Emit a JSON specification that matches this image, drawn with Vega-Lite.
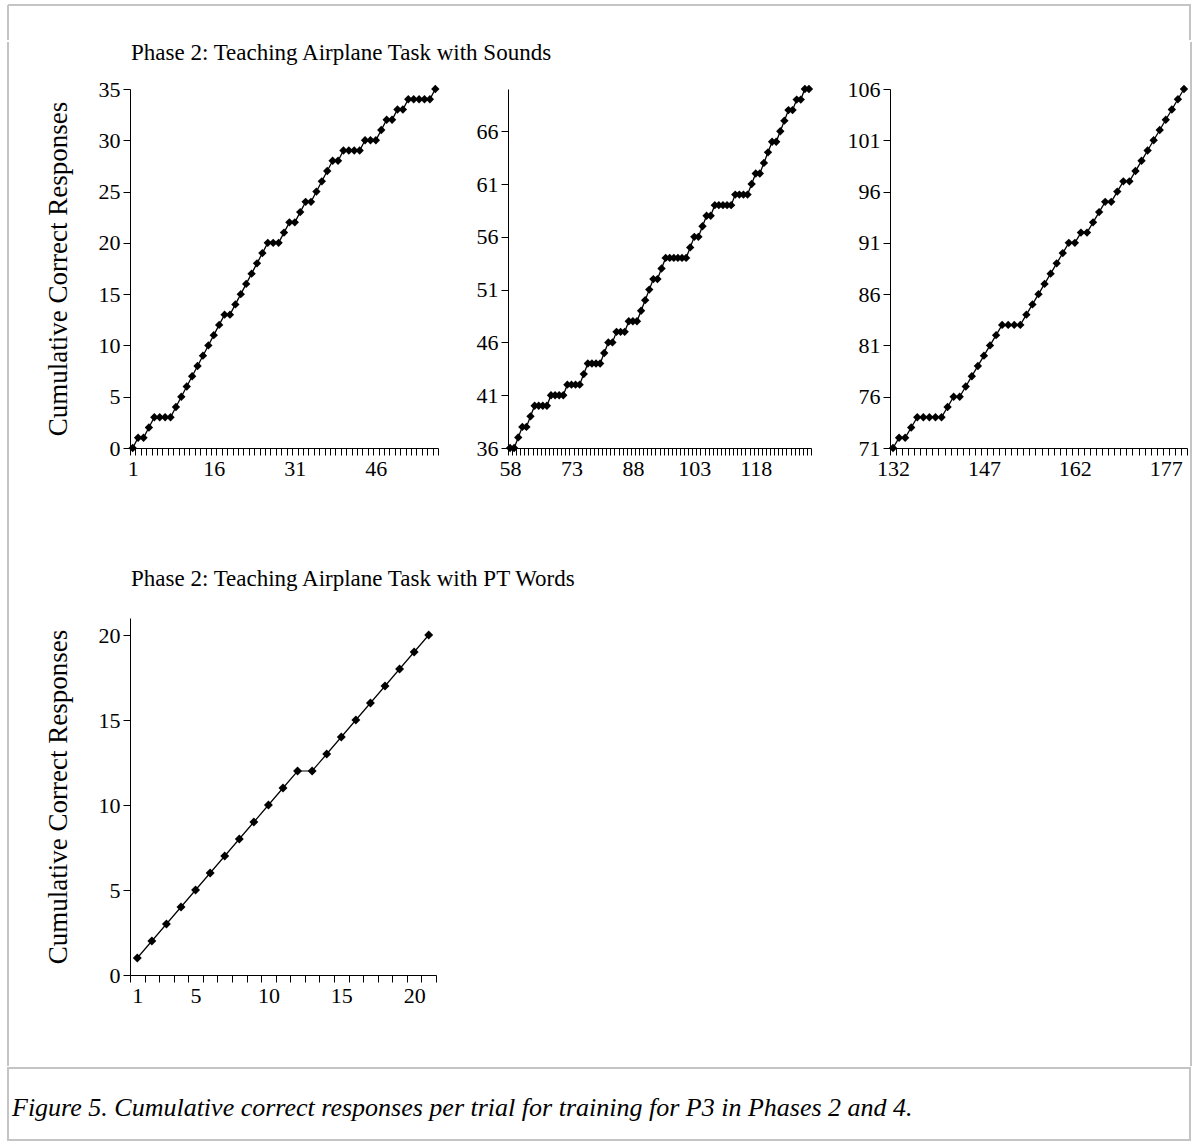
{
  "$schema": "https://vega.github.io/schema/vega-lite/v6.json",
  "background": "white",
  "padding": {"left": 7, "top": 4, "right": 0, "bottom": 0},
  "spacing": 0,
  "config": {
    "font": "Liberation Serif",
    "view": {"stroke": null},
    "axis": {"labelFont": "Liberation Serif", "titleFont": "Liberation Serif", "labelFontSize": 22, "titleFontSize": 27, "titleFontWeight": "normal", "labelColor": "black", "titleColor": "black", "domainColor": "black", "tickColor": "black", "domainWidth": 1, "tickWidth": 1, "tickSize": 7, "labelPadding": 3, "grid": false},
    "text": {"font": "Liberation Serif", "color": "black"}
  },
  "datasets": {
    "s1": [{"trial":1,"correct":0},{"trial":2,"correct":1},{"trial":3,"correct":1},{"trial":4,"correct":2},{"trial":5,"correct":3},{"trial":6,"correct":3},{"trial":7,"correct":3},{"trial":8,"correct":3},{"trial":9,"correct":4},{"trial":10,"correct":5},{"trial":11,"correct":6},{"trial":12,"correct":7},{"trial":13,"correct":8},{"trial":14,"correct":9},{"trial":15,"correct":10},{"trial":16,"correct":11},{"trial":17,"correct":12},{"trial":18,"correct":13},{"trial":19,"correct":13},{"trial":20,"correct":14},{"trial":21,"correct":15},{"trial":22,"correct":16},{"trial":23,"correct":17},{"trial":24,"correct":18},{"trial":25,"correct":19},{"trial":26,"correct":20},{"trial":27,"correct":20},{"trial":28,"correct":20},{"trial":29,"correct":21},{"trial":30,"correct":22},{"trial":31,"correct":22},{"trial":32,"correct":23},{"trial":33,"correct":24},{"trial":34,"correct":24},{"trial":35,"correct":25},{"trial":36,"correct":26},{"trial":37,"correct":27},{"trial":38,"correct":28},{"trial":39,"correct":28},{"trial":40,"correct":29},{"trial":41,"correct":29},{"trial":42,"correct":29},{"trial":43,"correct":29},{"trial":44,"correct":30},{"trial":45,"correct":30},{"trial":46,"correct":30},{"trial":47,"correct":31},{"trial":48,"correct":32},{"trial":49,"correct":32},{"trial":50,"correct":33},{"trial":51,"correct":33},{"trial":52,"correct":34},{"trial":53,"correct":34},{"trial":54,"correct":34},{"trial":55,"correct":34},{"trial":56,"correct":34},{"trial":57,"correct":35}],
    "s2": [{"trial":58,"correct":36},{"trial":59,"correct":36},{"trial":60,"correct":37},{"trial":61,"correct":38},{"trial":62,"correct":38},{"trial":63,"correct":39},{"trial":64,"correct":40},{"trial":65,"correct":40},{"trial":66,"correct":40},{"trial":67,"correct":40},{"trial":68,"correct":41},{"trial":69,"correct":41},{"trial":70,"correct":41},{"trial":71,"correct":41},{"trial":72,"correct":42},{"trial":73,"correct":42},{"trial":74,"correct":42},{"trial":75,"correct":42},{"trial":76,"correct":43},{"trial":77,"correct":44},{"trial":78,"correct":44},{"trial":79,"correct":44},{"trial":80,"correct":44},{"trial":81,"correct":45},{"trial":82,"correct":46},{"trial":83,"correct":46},{"trial":84,"correct":47},{"trial":85,"correct":47},{"trial":86,"correct":47},{"trial":87,"correct":48},{"trial":88,"correct":48},{"trial":89,"correct":48},{"trial":90,"correct":49},{"trial":91,"correct":50},{"trial":92,"correct":51},{"trial":93,"correct":52},{"trial":94,"correct":52},{"trial":95,"correct":53},{"trial":96,"correct":54},{"trial":97,"correct":54},{"trial":98,"correct":54},{"trial":99,"correct":54},{"trial":100,"correct":54},{"trial":101,"correct":54},{"trial":102,"correct":55},{"trial":103,"correct":56},{"trial":104,"correct":56},{"trial":105,"correct":57},{"trial":106,"correct":58},{"trial":107,"correct":58},{"trial":108,"correct":59},{"trial":109,"correct":59},{"trial":110,"correct":59},{"trial":111,"correct":59},{"trial":112,"correct":59},{"trial":113,"correct":60},{"trial":114,"correct":60},{"trial":115,"correct":60},{"trial":116,"correct":60},{"trial":117,"correct":61},{"trial":118,"correct":62},{"trial":119,"correct":62},{"trial":120,"correct":63},{"trial":121,"correct":64},{"trial":122,"correct":65},{"trial":123,"correct":65},{"trial":124,"correct":66},{"trial":125,"correct":67},{"trial":126,"correct":68},{"trial":127,"correct":68},{"trial":128,"correct":69},{"trial":129,"correct":69},{"trial":130,"correct":70},{"trial":131,"correct":70}],
    "s3": [{"trial":132,"correct":71},{"trial":133,"correct":72},{"trial":134,"correct":72},{"trial":135,"correct":73},{"trial":136,"correct":74},{"trial":137,"correct":74},{"trial":138,"correct":74},{"trial":139,"correct":74},{"trial":140,"correct":74},{"trial":141,"correct":75},{"trial":142,"correct":76},{"trial":143,"correct":76},{"trial":144,"correct":77},{"trial":145,"correct":78},{"trial":146,"correct":79},{"trial":147,"correct":80},{"trial":148,"correct":81},{"trial":149,"correct":82},{"trial":150,"correct":83},{"trial":151,"correct":83},{"trial":152,"correct":83},{"trial":153,"correct":83},{"trial":154,"correct":84},{"trial":155,"correct":85},{"trial":156,"correct":86},{"trial":157,"correct":87},{"trial":158,"correct":88},{"trial":159,"correct":89},{"trial":160,"correct":90},{"trial":161,"correct":91},{"trial":162,"correct":91},{"trial":163,"correct":92},{"trial":164,"correct":92},{"trial":165,"correct":93},{"trial":166,"correct":94},{"trial":167,"correct":95},{"trial":168,"correct":95},{"trial":169,"correct":96},{"trial":170,"correct":97},{"trial":171,"correct":97},{"trial":172,"correct":98},{"trial":173,"correct":99},{"trial":174,"correct":100},{"trial":175,"correct":101},{"trial":176,"correct":102},{"trial":177,"correct":103},{"trial":178,"correct":104},{"trial":179,"correct":105},{"trial":180,"correct":106}],
    "s4": [{"trial":1,"correct":1},{"trial":2,"correct":2},{"trial":3,"correct":3},{"trial":4,"correct":4},{"trial":5,"correct":5},{"trial":6,"correct":6},{"trial":7,"correct":7},{"trial":8,"correct":8},{"trial":9,"correct":9},{"trial":10,"correct":10},{"trial":11,"correct":11},{"trial":12,"correct":12},{"trial":13,"correct":12},{"trial":14,"correct":13},{"trial":15,"correct":14},{"trial":16,"correct":15},{"trial":17,"correct":16},{"trial":18,"correct":17},{"trial":19,"correct":18},{"trial":20,"correct":19},{"trial":21,"correct":20}],
    "blank": [{"t": ""}],
    "t1": [{"t": "Phase 2: Teaching Airplane Task with Sounds"}],
    "t2": [{"t": "Phase 2: Teaching Airplane Task with PT Words"}],
    "caption": [{"t": "Figure 5. Cumulative correct responses per trial for training for P3 in Phases 2 and 4."}]
  },
  "vconcat": [
    {"width": 1182, "height": 35, "view": {"stroke": "#c4c4c4", "strokeWidth": 2, "strokeDash": [1217, 1182, 35, 0]}, "data": {"name": "blank"}, "mark": {"type": "text"}, "encoding": {"text": {"field": "t"}}},
    {
      "spacing": 0,
      "hconcat": [
        {"width": 1, "height": 1024, "view": {"stroke": "#c4c4c4", "strokeWidth": 2, "strokeDash": [0, 1026, 1024, 0]}, "data": {"name": "blank"}, "mark": {"type": "text"}, "encoding": {"text": {"field": "t"}}},
        {
          "spacing": 10,
          "vconcat": [
            {"width": 700, "height": 26, "data": {"name": "t1"},
             "mark": {"type": "text", "align": "left", "baseline": "alphabetic", "dx": 121, "fontSize": 23},
             "encoding": {"text": {"field": "t"},
               "x": {"datum": 0, "type": "quantitative", "scale": {"domain": [0, 1]}, "axis": null},
               "y": {"datum": 0.31, "type": "quantitative", "scale": {"domain": [0, 1]}, "axis": null}}},
            {
              "spacing": 32,
              "hconcat": [
                {"width": 1, "height": 359, "data": {"name": "blank"}, "mark": {"type": "text"}, "encoding": {"text": {"field": "t"}}},
                {
                  "width": 308, "height": 359,
                  "data": {"name": "s1"},
                  "encoding": {
                    "x": {"field": "trial", "type": "quantitative", "scale": {"domain": [0.5, 57.5], "nice": false, "zero": false},
                          "axis": {"title": null, "minExtent": 60, "values": [0.5,1.5,2.5,3.5,4.5,5.5,6.5,7.5,8.5,9.5,10.5,11.5,12.5,13.5,14.5,15.5,16.5,17.5,18.5,19.5,20.5,21.5,22.5,23.5,24.5,25.5,26.5,27.5,28.5,29.5,30.5,31.5,32.5,33.5,34.5,35.5,36.5,37.5,38.5,39.5,40.5,41.5,42.5,43.5,44.5,45.5,46.5,47.5,48.5,49.5,50.5,51.5,52.5,53.5,54.5,55.5,56.5,57.5,1,16,31,46],
                                   "labelExpr": "datum.value % 1 === 0 ? datum.label : ''", "tickOpacity": {"condition": {"test": "datum.value % 1 === 0", "value": 0}, "value": 1}, "labelOverlap": false, "labelFlush": false, "labelBound": false}},
                    "y": {"field": "correct", "type": "quantitative", "scale": {"domain": [0, 35], "nice": false, "zero": false},
                          "axis": {"values": [0,5,10,15,20,25,30,35], "title": "Cumulative Correct Responses", "titleX": -72, "titleBaseline": "middle", "minExtent": 81, "maxExtent": 81}}
                  },
                  "layer": [
                    {"mark": {"type": "line", "color": "black", "strokeWidth": 1.3}},
                    {"mark": {"type": "point", "shape": "diamond", "filled": true, "color": "black", "size": 70, "opacity": 1}}
                  ]
                },
                {
                  "width": 303, "height": 359,
                  "data": {"name": "s2"},
                  "encoding": {
                    "x": {"field": "trial", "type": "quantitative", "scale": {"domain": [57.5, 131.5], "nice": false, "zero": false},
                          "axis": {"title": null, "minExtent": 60, "values": [57.5,58.5,59.5,60.5,61.5,62.5,63.5,64.5,65.5,66.5,67.5,68.5,69.5,70.5,71.5,72.5,73.5,74.5,75.5,76.5,77.5,78.5,79.5,80.5,81.5,82.5,83.5,84.5,85.5,86.5,87.5,88.5,89.5,90.5,91.5,92.5,93.5,94.5,95.5,96.5,97.5,98.5,99.5,100.5,101.5,102.5,103.5,104.5,105.5,106.5,107.5,108.5,109.5,110.5,111.5,112.5,113.5,114.5,115.5,116.5,117.5,118.5,119.5,120.5,121.5,122.5,123.5,124.5,125.5,126.5,127.5,128.5,129.5,130.5,131.5,58,73,88,103,118],
                                   "labelExpr": "datum.value % 1 === 0 ? datum.label : ''", "tickOpacity": {"condition": {"test": "datum.value % 1 === 0", "value": 0}, "value": 1}, "labelOverlap": false, "labelFlush": false, "labelBound": false}},
                    "y": {"field": "correct", "type": "quantitative", "scale": {"domain": [36, 70], "nice": false, "zero": false},
                          "axis": {"values": [36,41,46,51,56,61,66], "title": null, "minExtent": 36, "maxExtent": 36}}
                  },
                  "layer": [
                    {"mark": {"type": "line", "color": "black", "strokeWidth": 1.3}},
                    {"mark": {"type": "point", "shape": "diamond", "filled": true, "color": "black", "size": 70, "opacity": 1}}
                  ]
                },
                {
                  "width": 297, "height": 359,
                  "data": {"name": "s3"},
                  "encoding": {
                    "x": {"field": "trial", "type": "quantitative", "scale": {"domain": [131.5, 180.5], "nice": false, "zero": false},
                          "axis": {"title": null, "minExtent": 60, "values": [131.5,132.5,133.5,134.5,135.5,136.5,137.5,138.5,139.5,140.5,141.5,142.5,143.5,144.5,145.5,146.5,147.5,148.5,149.5,150.5,151.5,152.5,153.5,154.5,155.5,156.5,157.5,158.5,159.5,160.5,161.5,162.5,163.5,164.5,165.5,166.5,167.5,168.5,169.5,170.5,171.5,172.5,173.5,174.5,175.5,176.5,177.5,178.5,179.5,180.5,132,147,162,177],
                                   "labelExpr": "datum.value % 1 === 0 ? datum.label : ''", "tickOpacity": {"condition": {"test": "datum.value % 1 === 0", "value": 0}, "value": 1}, "labelOverlap": false, "labelFlush": false, "labelBound": false}},
                    "y": {"field": "correct", "type": "quantitative", "scale": {"domain": [71, 106], "nice": false, "zero": false},
                          "axis": {"values": [71,76,81,86,91,96,101,106], "title": null, "minExtent": 44, "maxExtent": 44}}
                  },
                  "layer": [
                    {"mark": {"type": "line", "color": "black", "strokeWidth": 1.3}},
                    {"mark": {"type": "point", "shape": "diamond", "filled": true, "color": "black", "size": 70, "opacity": 1}}
                  ]
                }
              ]
            },
            {"width": 700, "height": 90, "data": {"name": "t2"},
             "mark": {"type": "text", "align": "left", "baseline": "alphabetic", "dx": 121, "fontSize": 23},
             "encoding": {"text": {"field": "t"},
               "x": {"datum": 0, "type": "quantitative", "scale": {"domain": [0, 1]}, "axis": null},
               "y": {"datum": 0.239, "type": "quantitative", "scale": {"domain": [0, 1]}, "axis": null}}},
            {
              "spacing": 32,
              "hconcat": [
                {"width": 1, "height": 357, "data": {"name": "blank"}, "mark": {"type": "text"}, "encoding": {"text": {"field": "t"}}},
                {
                  "width": 306, "height": 357,
                  "data": {"name": "s4"},
                  "encoding": {
                    "x": {"field": "trial", "type": "quantitative", "scale": {"domain": [0.5, 21.5], "nice": false, "zero": false},
                          "axis": {"title": null, "values": [0.5,1.5,2.5,3.5,4.5,5.5,6.5,7.5,8.5,9.5,10.5,11.5,12.5,13.5,14.5,15.5,16.5,17.5,18.5,19.5,20.5,21.5,1,5,10,15,20],
                                   "labelExpr": "datum.value % 1 === 0 ? datum.label : ''", "tickOpacity": {"condition": {"test": "datum.value % 1 === 0", "value": 0}, "value": 1}, "labelOverlap": false, "labelFlush": false, "labelBound": false}},
                    "y": {"field": "correct", "type": "quantitative", "scale": {"domain": [0, 21], "nice": false, "zero": false},
                          "axis": {"values": [0,5,10,15,20], "title": "Cumulative Correct Responses", "titleX": -72, "titleBaseline": "middle", "minExtent": 81, "maxExtent": 81}}
                  },
                  "layer": [
                    {"mark": {"type": "line", "color": "black", "strokeWidth": 1.2}},
                    {"mark": {"type": "point", "shape": "diamond", "filled": true, "color": "black", "size": 80, "opacity": 1}}
                  ]
                }
              ]
            }
          ]
        },
        {"width": 1, "height": 1024, "view": {"stroke": "#c4c4c4", "strokeWidth": 2, "strokeDash": [0, 1, 1024, 1025]}, "data": {"name": "blank"}, "mark": {"type": "text"}, "encoding": {"text": {"field": "t"}}}
      ]
    },
    {
      "width": 1182, "height": 72,
      "view": {"stroke": "#c4c4c4", "strokeWidth": 2},
      "data": {"name": "caption"},
      "mark": {"type": "text", "align": "left", "baseline": "middle", "dx": 4, "fontStyle": "italic", "fontSize": 26},
      "encoding": {
        "text": {"field": "t"},
        "x": {"datum": 0, "type": "quantitative", "scale": {"domain": [0, 1]}, "axis": null},
        "y": {"datum": 0.45, "type": "quantitative", "scale": {"domain": [0, 1]}, "axis": null}
      }
    }
  ]
}
